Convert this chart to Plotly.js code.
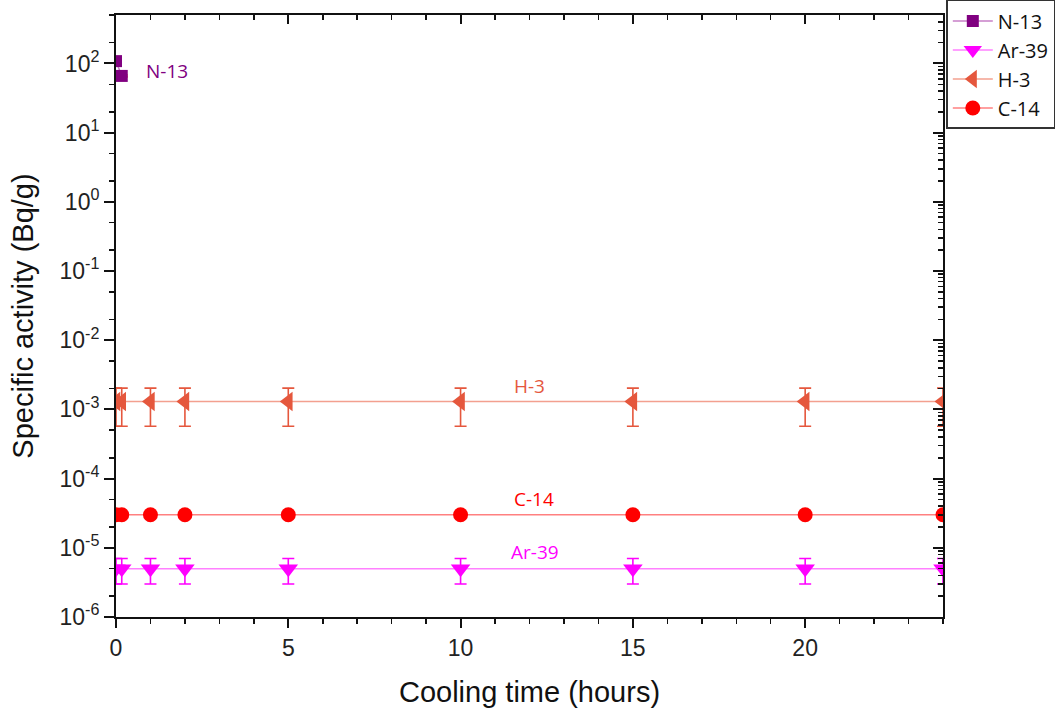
<!DOCTYPE html>
<html>
<head>
<meta charset="utf-8">
<script src="https://cdn.plot.ly/plotly-3.0.1.min.js"></script>
<style>html,body{margin:0;padding:0;background:#fff}#chart{width:1060px;height:716px}</style>
</head>
<body>
<div id="chart"></div>
<script>
// Cooling time (hours)
const timeN13 = [0, 0.167];
const valN13 = [108, 66];
const errN13 = [3, 2];

const timeLong = [0, 0.167, 1, 2, 5, 10, 15, 20, 24];
const valAr39 = [5e-6, 5e-6, 5e-6, 5e-6, 5e-6, 5e-6, 5e-6, 5e-6, 5e-6];
const errAr39 = [2e-6, 2e-6, 2e-6, 2e-6, 2e-6, 2e-6, 2e-6, 2e-6, 2e-6];
const valH3 = [1.3e-3, 1.3e-3, 1.3e-3, 1.3e-3, 1.3e-3, 1.3e-3, 1.3e-3, 1.3e-3, 1.3e-3];
const errH3 = [0.73e-3, 0.73e-3, 0.73e-3, 0.73e-3, 0.73e-3, 0.73e-3, 0.73e-3, 0.73e-3, 0.73e-3];
const valC14 = [3e-5, 3e-5, 3e-5, 3e-5, 3e-5, 3e-5, 3e-5, 3e-5, 3e-5];
const errC14 = [0.2e-5, 0.2e-5, 0.2e-5, 0.2e-5, 0.2e-5, 0.2e-5, 0.2e-5, 0.2e-5, 0.2e-5];

const seriesNames = ['N-13', 'Ar-39', 'H-3', 'C-14'];
const labelPos = {'N-13': [0.8, 79], 'H-3': [11.5, 2.15e-3], 'C-14': [11.5, 5.1e-5], 'Ar-39': [11.4, 8.7e-6]};

// y tick labels
const yTickVals = [1e-6, 1e-5, 1e-4, 1e-3, 1e-2, 1e-1, 1e0, 1e1, 1e2];
const yTickText = ['10<sup>-6</sup>', '10<sup>-5</sup>', '10<sup>-4</sup>', '10<sup>-3</sup>', '10<sup>-2</sup>', '10<sup>-1</sup>', '10<sup>0</sup>', '10<sup>1</sup>', '10<sup>2</sup>'];
const xTickVals = [0, 5, 10, 15, 20];
const xTickText = ['0', '5', '10', '15', '20'];

const colN13 = '#800080', lineN13 = '#c77fc7';
const colAr = '#ff00ff', lineAr = '#ff80ff';
const colH3 = '#e5573d', lineH3 = '#f3a08f';
const colC14 = '#ff0000', lineC14 = '#ff8080';

function tr(name, x, y, err, col, lcol, sym, size, ecol) {
  return {
    type: 'scatter', mode: 'lines+markers', name: name, x: x, y: y,
    line: {color: lcol, width: 1.5},
    marker: {color: col, symbol: sym, size: size},
    error_y: {type: 'data', array: err, visible: true, color: ecol || col, thickness: 1.6, width: 6},
    cliponaxis: true
  };
}

const traces = [
  tr(seriesNames[0], timeN13, valN13, errN13, colN13, lineN13, 'square', 12, '#ff3030'),
  tr(seriesNames[1], timeLong, valAr39, errAr39, colAr, lineAr, 'triangle-down', 17),
  tr(seriesNames[2], timeLong, valH3, errH3, colH3, lineH3, 'triangle-left', 17),
  tr(seriesNames[3], timeLong, valC14, errC14, colC14, lineC14, 'circle', 15)
];

const annFont = 'Open Sans, Noto Sans, sans-serif';
const annColors = {'N-13': colN13, 'H-3': colH3, 'C-14': colC14, 'Ar-39': colAr};
const annotations = seriesNames.map(n => ({
  x: labelPos[n][0], y: Math.log10(labelPos[n][1]), xref: 'x', yref: 'y',
  text: n, showarrow: false, xanchor: 'left', yanchor: 'middle',
  font: {family: annFont, size: 19, color: annColors[n]}
}));

const tickFont = {family: 'Liberation Sans, Arial, sans-serif', size: 23, color: '#222'};
const titleFont = {family: 'Liberation Sans, Arial, sans-serif', size: 29, color: '#111'};

const layout = {
  width: 1060, height: 716,
  margin: {l: 116, r: 117, t: 15, b: 99, autoexpand: false},
  paper_bgcolor: '#fff', plot_bgcolor: '#fff',
  showlegend: true,
  legend: {
    x: 1.004, y: 1.025, xanchor: 'left', yanchor: 'top',
    bordercolor: '#333', borderwidth: 1.5, bgcolor: '#fff',
    font: {family: annFont, size: 20, color: '#111'},
    tracegroupgap: 2, itemwidth: 40
  },
  xaxis: {
    range: [0, 24], tickmode: 'array', tickvals: xTickVals, ticktext: xTickText,
    showgrid: false, zeroline: false,
    showline: true, linecolor: '#111', linewidth: 2,
    ticks: 'outside', ticklen: 9, tickwidth: 2, tickcolor: '#111',
    minor: {dtick: 1, tick0: 0, ticks: 'outside', ticklen: 5, tickwidth: 1.5, tickcolor: '#111', showgrid: false},
    tickfont: tickFont,
    title: {text: 'Cooling time (hours)', font: titleFont, standoff: 22}
  },
  yaxis: {
    type: 'log', range: [-6, 2.7], tickmode: 'array', tickvals: yTickVals, ticktext: yTickText,
    showgrid: false, zeroline: false,
    showline: true, linecolor: '#111', linewidth: 2,
    ticks: 'outside', ticklen: 10, tickwidth: 2, tickcolor: '#111',
    minor: {ticks: 'outside', ticklen: 5, tickwidth: 1.5, tickcolor: '#111', showgrid: false},
    tickfont: tickFont,
    title: {text: 'Specific activity (Bq/g)', font: titleFont, standoff: 17}
  },
  xaxis2: {
    overlaying: 'x', side: 'top', range: [0, 24], dtick: 5, tick0: 0,
    showgrid: false, zeroline: false, showticklabels: false,
    showline: true, linecolor: '#111', linewidth: 2,
    ticks: 'inside', ticklen: 9, tickwidth: 2, tickcolor: '#111',
    minor: {dtick: 1, tick0: 0, ticks: 'inside', ticklen: 5, tickwidth: 1.5, tickcolor: '#111', showgrid: false}
  },
  yaxis2: {
    overlaying: 'y', side: 'right', type: 'log', range: [-6, 2.7], dtick: 1,
    showgrid: false, zeroline: false, showticklabels: false,
    showline: true, linecolor: '#111', linewidth: 2,
    ticks: 'inside', ticklen: 10, tickwidth: 2, tickcolor: '#111',
    minor: {ticks: 'inside', ticklen: 5, tickwidth: 1.5, tickcolor: '#111', showgrid: false}
  },
  annotations: annotations
};

// invisible trace so the mirror axes get drawn
traces.push({type: 'scatter', x: [0], y: [1], xaxis: 'x2', yaxis: 'y2', mode: 'markers', marker: {opacity: 0}, showlegend: false, hoverinfo: 'skip'});

Plotly.newPlot('chart', traces, layout, {displayModeBar: false, staticPlot: true});
</script>
</body>
</html>
